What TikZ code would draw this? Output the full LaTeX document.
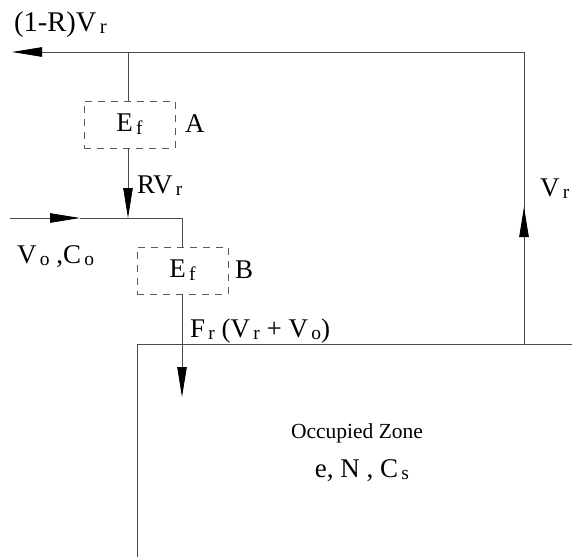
\documentclass[tikz,border=0pt]{standalone}
\usepackage{fontspec}
\setmainfont{Liberation Serif}
\usetikzlibrary{arrows.meta}
\makeatletter
\newcommand{\sbx}[1]{{\@tempdima=\f@size pt\relax
  \@tempdima=0.72\@tempdima
  \hspace{0.12em}\raisebox{-0.1em}{\fontsize{\strip@pt\@tempdima}{\strip@pt\@tempdima}\selectfont #1}}}
\makeatother
\tikzset{
  flow/.style={draw=black!70, line width=0.8pt},
  tip/.style={-{Triangle[length=30pt,width=9.5pt,color=black]}},
  filt/.style={draw=black!65, line width=0.8pt, dash pattern=on 7pt off 6pt,
    minimum width=91pt, minimum height=47pt, inner sep=0pt,
    font=\fontsize{27}{31}\selectfont},
  lbl/.style={inner sep=0pt, anchor=base west, font=\fontsize{27}{31}\selectfont},
}
\begin{document}
\begin{tikzpicture}[x=1pt,y=-1pt]
\useasboundingbox (0,0) rectangle (572,557);
% filter boxes
\node[filt] (A) at (129.5,124.5) {E\sbx{f}};
\node[filt] (B) at (182.5,270.5) {E\sbx{f}};
% coordinates
\coordinate (tl) at (12,52);
\coordinate (tA) at (128,52);
\coordinate (tr) at (524,52);
\coordinate (vrtip) at (524,207);
\coordinate (br) at (524,344);
\coordinate (zl) at (137,344);
\coordinate (zr) at (572,344);
\coordinate (zb) at (137,557);
\coordinate (in) at (10,218);
\coordinate (intip) at (80,218);
\coordinate (mix) at (128,218);
\coordinate (mixr) at (182,218);
\coordinate (ftip) at (182,397);
% return loop
\draw[flow] (br) -- (tr) -- (tA);
\draw[flow,tip] (br) -- (vrtip);
\draw[flow,tip] (tr) -- (tl);
\draw[flow] (tA) -- (A.north -| tA);
\draw[flow,tip] (A.south -| tA) -- (mix);
% outdoor air
\draw[flow,tip] (in) -- (intip);
\draw[flow] (intip) -- (mixr) -- (B.north -| mixr);
\draw[flow,tip] (B.south -| mixr) -- (ftip);
% occupied zone
\draw[flow] (zr) -- (zl) -- (zb);
% labels
\node[lbl, font=\fontsize{28.5}{32}\selectfont] (l1) at (14,31) {(1-R)V\sbx{r}};
\node[lbl] (lA) at (185,132) {A};
\node[lbl] (l2) at (137,193) {RV\sbx{r}};
\node[lbl] (l3) at (17,263) {V\sbx{o} ,C\sbx{o}};
\node[lbl] (lB) at (235,278) {B};
\node[lbl] (l4) at (190,337) {F\sbx{r} (V\sbx{r} + V\sbx{o})};
\node[lbl] (l5) at (540,196) {V\sbx{r}};
\node[inner sep=0pt, anchor=base, font=\fontsize{21.5}{25}\selectfont] (oz) at (357,438) {Occupied Zone};
\node[inner sep=0pt, anchor=base, font=\fontsize{27}{31}\selectfont] (en) at (362,477) {e, N , C\sbx{s}};
\end{tikzpicture}
\end{document}
